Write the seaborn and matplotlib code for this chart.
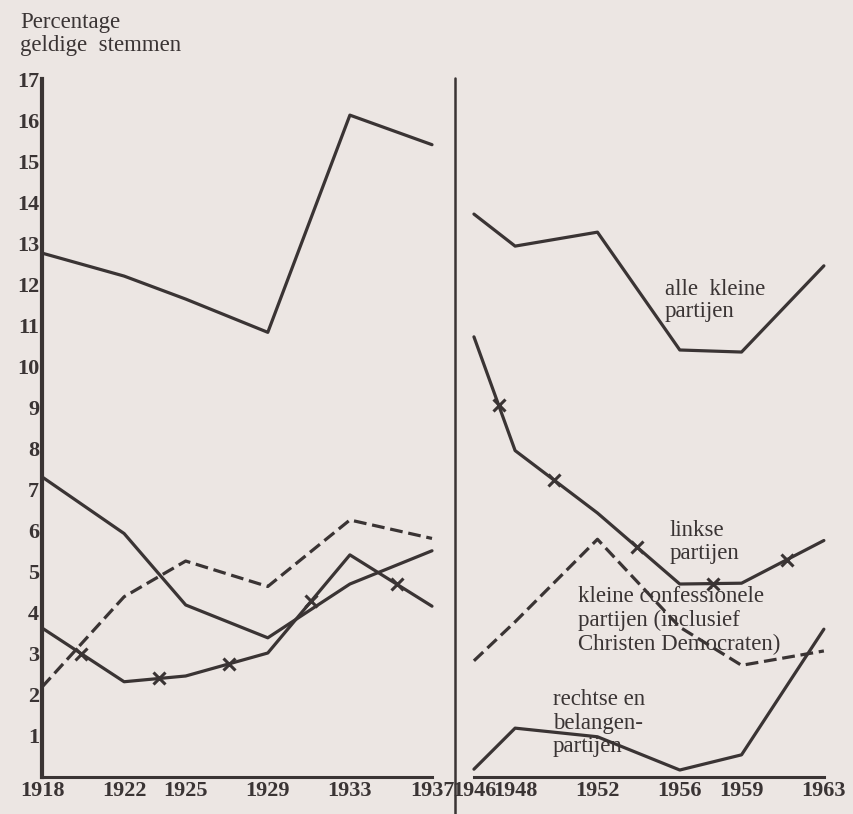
import numpy as np
import pandas as pd
import seaborn as sns
import matplotlib
matplotlib.use("Agg")
import matplotlib.pyplot as plt
from matplotlib.lines import Line2D

# interbellum and post-war election years
years_pre = [1918, 1922, 1925, 1929, 1933, 1937]
years_post = [1946, 1948, 1952, 1956, 1959, 1963]

# percentage geldige stemmen
alle_pre = [12.76, 12.2, 11.64, 10.83, 16.12, 15.4]
alle_post = [13.71, 12.93, 13.27, 10.40, 10.35, 12.45]
linkse_pre = [3.63, 2.32, 2.46, 3.02, 5.41, 4.16]
linkse_post = [10.72, 7.95, 6.43, 4.70, 4.72, 5.76]
confess_pre = [2.19, 4.39, 5.26, 4.64, 6.26, 5.81]
confess_post = [2.83, 3.78, 5.79, 3.65, 2.72, 3.07]
rechts_pre = [7.31, 5.93, 4.19, 3.39, 4.70, 5.51]
rechts_post = [0.19, 1.19, 0.98, 0.17, 0.54, 3.60]

# where the little crosses sit on the "linkse partijen" line
cross_pre = [1919.9, 1923.7, 1927.1, 1931.1, 1935.3]
cross_post = [1947.2, 1949.9, 1953.9, 1957.6, 1961.2]

yticks = list(range(1, 18))

BG = "#ece6e3"
INK = "#3a3434"
LW = 2.3
DASH = (0, (4, 1.8))

sns.set_theme(style="white")
plt.rcParams["font.family"] = ["Liberation Serif", "DejaVu Serif"]

fig = plt.figure(figsize=(8.54, 8.14), dpi=100, facecolor=BG)
W, H = 854, 814


def box(x0, x1, y_top, y_bot):
    return [x0 / W, 1 - y_bot / H, (x1 - x0) / W, (y_bot - y_top) / H]


ax1 = fig.add_axes(box(42, 432, 79, 777))
ax2 = fig.add_axes(box(455, 828, 79, 777))

panels = [
    (ax1, years_pre, alle_pre, linkse_pre, confess_pre, rechts_pre, cross_pre, (1918, 1937)),
    (ax2, years_post, alle_post, linkse_post, confess_post, rechts_post, cross_post, (1945.08, 1963.2)),
]

TICK_FS = 16

for ax, yrs, alle, links, conf, rechts, crosses, xlim in panels:
    ax.set_facecolor(BG)
    df = pd.DataFrame({"jaar": yrs, "alle": alle, "linkse": links,
                       "confess": conf, "rechts": rechts})
    kw = dict(ax=ax, color=INK, lw=LW, clip_on=False, legend=False)
    sns.lineplot(data=df, x="jaar", y="alle", **kw)
    sns.lineplot(data=df, x="jaar", y="linkse", **kw)
    sns.lineplot(data=df, x="jaar", y="rechts", **kw)
    sns.lineplot(data=df, x="jaar", y="confess", linestyle=DASH, **kw)
    cy = np.interp(crosses, yrs, links)
    ax.plot(crosses, cy, ls="none", marker="x", ms=8, mew=2.2, color=INK, clip_on=False)

    ax.set_xlim(*xlim)
    ax.set_ylim(0, 17)
    ax.set_xlabel("")
    ax.set_ylabel("")
    ax.set_xticks(yrs)
    ax.set_xticklabels([str(y) for y in yrs])
    for s in ["top", "right"]:
        ax.spines[s].set_visible(False)
    ax.spines["bottom"].set_color(INK)
    ax.spines["bottom"].set_linewidth(2.2)
    ax.spines["bottom"].set_bounds(yrs[0], yrs[-1])
    ax.tick_params(axis="x", direction="in", length=4, width=1.6, color=INK,
                   pad=3, labelsize=TICK_FS, labelcolor=INK)
    for t in ax.get_xticklabels():
        t.set_fontweight("bold")

ax1.spines["left"].set_color(INK)
ax1.spines["left"].set_linewidth(3)
ax1.set_yticks(yticks)
ax1.set_yticklabels([str(v) for v in yticks])
ax1.tick_params(axis="y", direction="in", length=4, width=1.6, color=INK,
                pad=2, labelsize=TICK_FS, labelcolor=INK)
for t in ax1.get_yticklabels():
    t.set_fontweight("bold")

ax2.spines["left"].set_visible(False)
ax2.set_yticks([])

# vertical separator between the two periods
fig.add_artist(Line2D([455 / W, 455 / W], [0, 1 - 78 / H], transform=fig.transFigure,
                      color=INK, lw=1.8))

fs = 16.5
fig.text(20 / W, 1 - 12 / H, "Percentage\ngeldige  stemmen", ha="left", va="top",
         fontsize=fs, color=INK, linespacing=1.12)

ax2.text(1955.27, 12.13, "alle  kleine\npartijen", ha="left", va="top",
         fontsize=fs, color=INK, linespacing=1.08)
ax2.text(1955.5, 6.25, "linkse\npartijen", ha="left", va="top",
         fontsize=fs, color=INK, linespacing=1.1)
ax2.text(1951.05, 4.65, "kleine confessionele\npartijen (inclusief\nChristen Democraten)",
         ha="left", va="top", fontsize=fs, color=INK, linespacing=1.18)
ax2.text(1949.83, 2.15, "rechtse en\nbelangen-\npartijen", ha="left", va="top",
         fontsize=fs, color=INK, linespacing=1.18)

fig.savefig("out.png", dpi=100, facecolor=BG)
